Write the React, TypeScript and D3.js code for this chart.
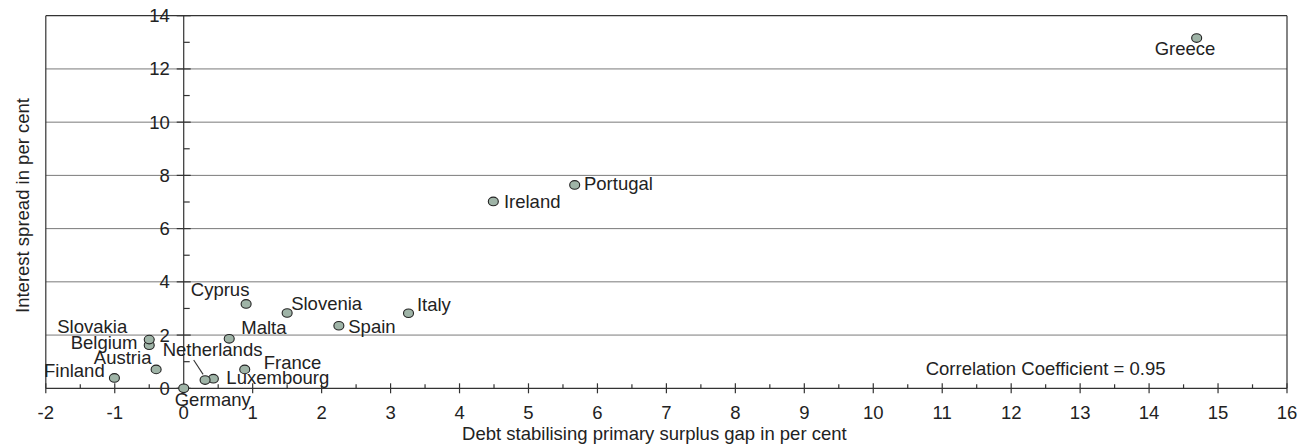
import React from "react";
import * as d3 from "d3";

const countries = [
  "Greece", "Portugal", "Ireland", "Italy", "Spain", "Slovenia", "Cyprus", "Malta",
  "France", "Luxembourg", "Netherlands", "Germany", "Austria", "Belgium", "Slovakia", "Finland",
];
const surplusGap = [14.69, 5.67, 4.49, 3.26, 2.25, 1.5, 0.905, 0.66, 0.885, 0.43, 0.31, 0, -0.4, -0.5, -0.5, -1.005];
const interestSpread = [13.16, 7.64, 7.02, 2.82, 2.35, 2.83, 3.17, 1.86, 0.71, 0.36, 0.31, 0, 0.71, 1.62, 1.83, 0.39];

const xTicks = d3.range(-2, 17, 1);
const xMinorTicks = d3.range(-1.5, 16, 1);
const yTicks = [0, 2, 4, 6, 8, 10, 12, 14];
const yMinorTicks = [1, 3, 5, 7, 9, 11, 13];

const xTitle = "Debt stabilising primary surplus gap in per cent";
const yTitle = "Interest spread in per cent";
const note = "Correlation Coefficient = 0.95";

// label placement (layout only)
const labelPos: Record<string, { dx: number; dy: number; anchor: string }> = {
  Greece: { dx: -11.7, dy: 16.7, anchor: "middle" },
  Portugal: { dx: 9.3, dy: 5, anchor: "start" },
  Ireland: { dx: 10.6, dy: 6.6, anchor: "start" },
  Italy: { dx: 8.4, dy: -2.6, anchor: "start" },
  Spain: { dx: 9.4, dy: 7, anchor: "start" },
  Slovenia: { dx: 4, dy: -3, anchor: "start" },
  Cyprus: { dx: 3.3, dy: -8, anchor: "end" },
  Malta: { dx: 12, dy: -4.4, anchor: "start" },
  France: { dx: 19, dy: 0, anchor: "start" },
  Luxembourg: { dx: 13, dy: 5.6, anchor: "start" },
  Netherlands: { dx: -42.4, dy: -24, anchor: "start" },
  Germany: { dx: -9, dy: 17.7, anchor: "start" },
  Austria: { dx: -4.7, dy: -5.3, anchor: "end" },
  Belgium: { dx: -11.7, dy: 4, anchor: "end" },
  Slovakia: { dx: -22, dy: -7, anchor: "end" },
  Finland: { dx: -9.7, dy: -0.7, anchor: "end" },
};

const W = 1306;
const H = 446;
const FONT = "'Liberation Sans', Arial, Helvetica, sans-serif";
const FS = 18.5;

export default function App() {
  const x = d3.scaleLinear().domain([-2, 16]).range([45.8, 1287]);
  const y = d3.scaleLinear().domain([0, 14]).range([388.3, 15.7]);
  const x0 = x(0);
  const y0 = y(0);
  const textColor = "#222";

  return (
    <svg
      width={W}
      height={H}
      style={{ position: "absolute", left: 0, top: 0, background: "#fff" }}
      fontFamily={FONT}
      fontSize={FS}
    >
      {/* gridlines */}
      {yTicks.filter((t) => t > 0 && t < 14).map((t) => (
        <line key={"g" + t} x1={x(-2)} x2={x(16)} y1={y(t)} y2={y(t)} stroke="#7a7a7a" strokeWidth={1} />
      ))}
      {/* frame */}
      <line x1={x(-2)} x2={x(16)} y1={y(14)} y2={y(14)} stroke="#333" strokeWidth={1.2} />
      <line x1={x(-2)} x2={x(-2)} y1={y(14)} y2={y0} stroke="#333" strokeWidth={1.2} />
      <line x1={x(16)} x2={x(16)} y1={y(14)} y2={y0} stroke="#333" strokeWidth={1.2} />

      {/* y axis */}
      <line x1={x0} x2={x0} y1={y(14)} y2={y0} stroke="#333" strokeWidth={1.2} />
      {yTicks.map((t) => (
        <g key={"yt" + t}>
          <line x1={x0 - 7} x2={x0 + 7} y1={y(t)} y2={y(t)} stroke="#333" strokeWidth={1.2} />
          <text x={x0 - 14} y={y(t)} dy="0.35em" textAnchor="end" fill={textColor}>
            {t}
          </text>
        </g>
      ))}
      {yMinorTicks.map((t) => (
        <line key={"ym" + t} x1={x0} x2={x0 + 6} y1={y(t)} y2={y(t)} stroke="#333" strokeWidth={1.2} />
      ))}

      {/* x axis */}
      <line x1={x(-2)} x2={x(16)} y1={y0} y2={y0} stroke="#333" strokeWidth={1.2} />
      {xTicks.map((t) => (
        <g key={"xt" + t}>
          <line x1={x(t)} x2={x(t)} y1={y0 - 5} y2={y0 + 5} stroke="#333" strokeWidth={1.2} />
          <text x={x(t)} y={419} textAnchor="middle" fill={textColor}>
            {t}
          </text>
        </g>
      ))}
      {xMinorTicks.map((t) => (
        <line key={"xm" + t} x1={x(t)} x2={x(t)} y1={y0 - 4} y2={y0} stroke="#333" strokeWidth={1.2} />
      ))}

      {/* axis titles */}
      <text x={(x(-2) + x(16)) / 2 - 12} y={440} textAnchor="middle" fill={textColor}>
        {xTitle}
      </text>
      <text transform={`translate(29.3,205.5) rotate(-90)`} textAnchor="middle" fill={textColor}>
        {yTitle}
      </text>

      {/* note */}
      <text x={x(10.76)} y={y(0.5)} fill={textColor}>
        {note}
      </text>

      {/* Netherlands leader line */}
      {countries.map((c, i) =>
        c === "Netherlands" ? (
          <line
            key="leader"
            x1={x(surplusGap[i]) - 11.4}
            y1={y(interestSpread[i]) - 20}
            x2={x(surplusGap[i]) - 2}
            y2={y(interestSpread[i]) - 5.7}
            stroke="#333"
            strokeWidth={1.1}
          />
        ) : null
      )}

      {/* points */}
      {countries.map((c, i) => (
        <ellipse
          key={"p" + c}
          cx={x(surplusGap[i])}
          cy={y(interestSpread[i])}
          rx={5}
          ry={4.3}
          fill="#9fb4a7"
          stroke="#222"
          strokeWidth={1.1}
        />
      ))}

      {/* labels */}
      {countries.map((c, i) => {
        const p = labelPos[c];
        return (
          <text
            key={"l" + c}
            x={x(surplusGap[i]) + p.dx}
            y={y(interestSpread[i]) + p.dy}
            textAnchor={p.anchor as any}
            fill={textColor}
          >
            {c}
          </text>
        );
      })}
    </svg>
  );
}
